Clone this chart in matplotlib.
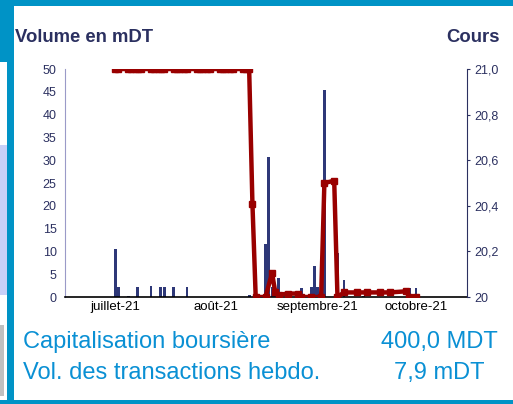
import numpy as np
import pandas as pd
import matplotlib
matplotlib.use("Agg")
import matplotlib.pyplot as plt
from matplotlib.patches import Rectangle

plt.rcParams['font.family'] = ['Liberation Sans', 'DejaVu Sans']

# Volume quotidien (mDT)
vol_dates = ['2021-07-01', '2021-07-02', '2021-07-05', '2021-07-08', '2021-07-12',
             '2021-07-15', '2021-07-16', '2021-07-19', '2021-07-23', '2021-08-11',
             '2021-08-16', '2021-08-17', '2021-08-18', '2021-08-19', '2021-08-20',
             '2021-08-27', '2021-08-30', '2021-08-31', '2021-09-01', '2021-09-03',
             '2021-09-07', '2021-09-09', '2021-09-15', '2021-09-29', '2021-10-01']
volumes = [10.5, 2.2, 0.2, 2.2, 2.4,
           2.2, 2.2, 2.2, 2.2, 0.4,
           11.6, 30.7, 2.2, 1.5, 4.2,
           2.0, 2.2, 6.8, 2.2, 45.3,
           9.6, 3.7, 0.3, 2.0, 2.0]

# Cours
price_dates = ['2021-07-01', '2021-07-02', '2021-07-05', '2021-07-06', '2021-07-07',
               '2021-07-08', '2021-07-09', '2021-07-12', '2021-07-13', '2021-07-14',
               '2021-07-15', '2021-07-16', '2021-07-19', '2021-07-20', '2021-07-21',
               '2021-07-22', '2021-07-23', '2021-07-26', '2021-07-27', '2021-07-28',
               '2021-07-29', '2021-07-30', '2021-08-02', '2021-08-03', '2021-08-04',
               '2021-08-05', '2021-08-06', '2021-08-09', '2021-08-10', '2021-08-11',
               '2021-08-12', '2021-08-13', '2021-08-16', '2021-08-18', '2021-08-19',
               '2021-08-20', '2021-08-23', '2021-08-26', '2021-08-27', '2021-08-30',
               '2021-09-02', '2021-09-03', '2021-09-06', '2021-09-07', '2021-09-09',
               '2021-09-13', '2021-09-16', '2021-09-20', '2021-09-23', '2021-09-28',
               '2021-09-29', '2021-10-01']
prices = [21.0, 21.0, 21.0, 21.0, 21.0,
          21.0, 21.0, 21.0, 21.0, 21.0,
          21.0, 21.0, 21.0, 21.0, 21.0,
          21.0, 21.0, 21.0, 21.0, 21.0,
          21.0, 21.0, 21.0, 21.0, 21.0,
          21.0, 21.0, 21.0, 21.0, 21.0,
          20.41, 20.0, 20.0, 20.105, 20.02,
          20.01, 20.015, 20.015, 20.0, 20.0,
          20.0, 20.5, 20.51, 20.0, 20.02,
          20.02, 20.02, 20.02, 20.02, 20.025,
          20.0, 20.0]

month_ticks = ['2021-07-01', '2021-08-01', '2021-09-01', '2021-10-01']
month_labels = ['juillet-21', 'août-21', 'septembre-21', 'octobre-21']
vol_ticks = list(range(0, 51, 5))
cours_ticks = [20.0, 20.2, 20.4, 20.6, 20.8, 21.0]
cours_labels = ['20', '20,2', '20,4', '20,6', '20,8', '21,0']

blue = '#0093c6'
navy = '#2e3878'
red = '#990000'
txt = '#2b3060'

fig = plt.figure(figsize=(5.13, 4.04), dpi=100)
W, H = 513.0, 404.0

def rect(x, y, w, h, c):
    # coordonnées en pixels depuis le coin haut-gauche
    fig.patches.append(Rectangle((x / W, 1 - (y + h) / H), w / W, h / H,
                                 transform=fig.transFigure, color=c, lw=0, zorder=0))

# cadre décoratif
rect(0, 0, 513, 6, blue)
rect(0, 0, 14, 62, blue)
rect(0, 145, 7, 150, '#c8d0f8')
rect(0, 325, 4, 71, '#c0c0c0')
rect(7, 0, 7, 404, blue)
rect(0, 400, 513, 4, blue)

ax = fig.add_axes([65 / W, 1 - 297 / H, (467 - 65) / W, (297 - 69) / H])
ax2 = ax.twinx()

vd = pd.to_datetime(vol_dates)
pdts = pd.to_datetime(price_dates)
ax.bar(vd, volumes, width=0.9, color=navy, zorder=2)
ax2.plot(pdts, prices, color=red, lw=3.2, marker='s', markersize=5, zorder=3)

x0 = pd.Timestamp('2021-07-01')
ax.set_xlim(x0 - pd.Timedelta(days=15.3), x0 + pd.Timedelta(days=107.6))
ax.set_ylim(0, 50)
ax2.set_ylim(20, 21)

ax.set_xticks(pd.to_datetime(month_ticks))
ax.set_xticklabels(month_labels, fontsize=9.5, color='black')
ax.set_yticks(vol_ticks)
ax.set_yticklabels([str(v) for v in vol_ticks], fontsize=9, color=txt)
ax2.set_yticks(cours_ticks)
ax2.set_yticklabels(cours_labels, fontsize=9, color=txt)

ax.tick_params(axis='x', length=0, pad=3)
ax.tick_params(axis='y', length=0, pad=6)
ax2.tick_params(axis='y', length=2, pad=3, color=txt)

for a in (ax, ax2):
    a.spines['top'].set_visible(False)
    a.set_facecolor('none')
ax.spines['left'].set_color('#9a9ac8')
ax.spines['right'].set_visible(False)
ax.spines['bottom'].set_color('black')
ax.spines['bottom'].set_linewidth(1.2)
ax2.spines['left'].set_visible(False)
ax2.spines['bottom'].set_visible(False)
ax2.spines['right'].set_color(txt)

fig.text(15 / W, 1 - 37 / H, 'Volume en mDT', fontsize=13.3, fontweight='bold',
         color=txt, va='center', ha='left')
fig.text(500 / W, 1 - 37 / H, 'Cours', fontsize=13.3, fontweight='bold',
         color=txt, va='center', ha='right')

fig.text(23 / W, 1 - 342 / H, 'Capitalisation boursière', fontsize=17,
         color='#0a90d4', va='center', ha='left')
fig.text(439 / W, 1 - 342 / H, '400,0 MDT', fontsize=17,
         color='#0a90d4', va='center', ha='center')
fig.text(23 / W, 1 - 373 / H, 'Vol. des transactions hebdo.', fontsize=17,
         color='#0a90d4', va='center', ha='left')
fig.text(439 / W, 1 - 373 / H, '7,9 mDT', fontsize=17,
         color='#0a90d4', va='center', ha='center')

fig.savefig('out.png', dpi=100)
